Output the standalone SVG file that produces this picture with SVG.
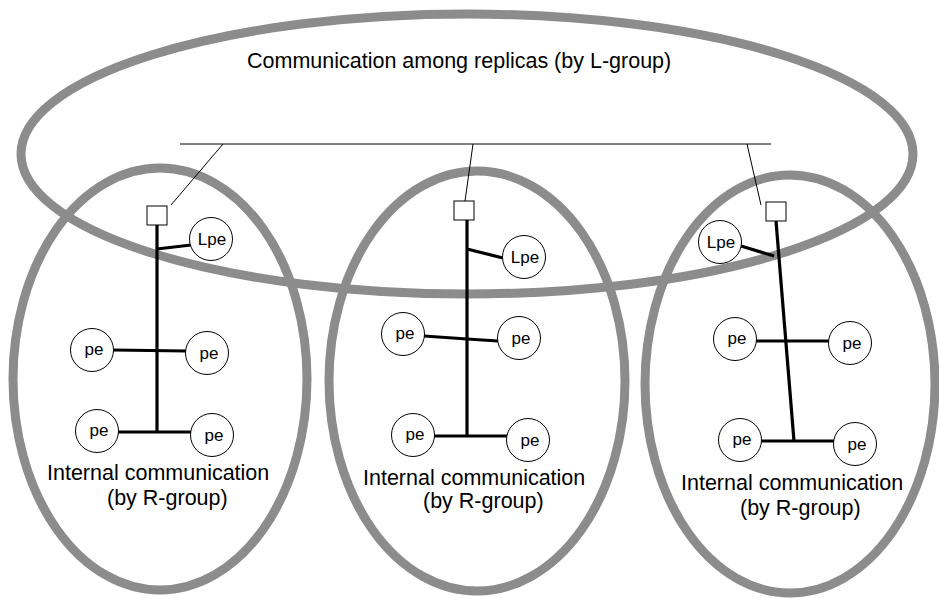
<svg xmlns="http://www.w3.org/2000/svg" width="939" height="598" viewBox="0 0 939 598">
<style>
.grp{fill:none;stroke:#8c8c8c;stroke-width:9}
.thin{stroke:#000;stroke-width:1;fill:none}
.thick{stroke:#000;stroke-width:3.2;fill:none}
.node circle{fill:#fff;stroke:#000;stroke-width:1}
.node rect{fill:#fff;stroke:#000;stroke-width:1}
text{font-family:"Liberation Sans",Arial,sans-serif;fill:#000}
.lbl{font-size:17px;text-anchor:middle}
.big{font-size:21.5px}
</style>
<rect width="939" height="598" fill="#fff"/>
<g id="groups">
<ellipse id="lgroup" class="grp" cx="467" cy="154" rx="446" ry="140"/>
<ellipse id="rgroup1" class="grp" cx="160" cy="379" rx="147" ry="211"/>
<ellipse id="rgroup2" class="grp" cx="477" cy="381" rx="148" ry="210"/>
<ellipse id="rgroup3" class="grp" cx="790" cy="384" rx="145" ry="209"/>
</g>
<g id="connectors">
<line class="thin" x1="180" y1="144" x2="771" y2="144"/>
<line class="thin" x1="171" y1="205" x2="223" y2="144"/>
<line class="thin" x1="465" y1="201" x2="473" y2="144"/>
<line class="thin" x1="761" y1="205" x2="747" y2="144"/>
<line class="thick" x1="157" y1="225" x2="157" y2="432"/>
<line class="thick" x1="157" y1="249" x2="191" y2="245"/>
<line class="thick" x1="113" y1="350" x2="186" y2="351"/>
<line class="thick" x1="118" y1="432" x2="191" y2="432"/>
<line class="thick" x1="467" y1="220" x2="467" y2="436"/>
<line class="thick" x1="467" y1="249" x2="503" y2="258"/>
<line class="thick" x1="424" y1="336" x2="467" y2="339"/>
<line class="thick" x1="467" y1="339" x2="498" y2="341"/>
<line class="thick" x1="434" y1="436" x2="507" y2="436"/>
<line class="thick" x1="776" y1="221" x2="794" y2="441"/>
<line class="thick" x1="741" y1="246" x2="774" y2="256"/>
<line class="thick" x1="756" y1="341" x2="829" y2="341"/>
<line class="thick" x1="761" y1="441" x2="834" y2="441"/>
</g>
<g id="bridge1" class="node"><rect x="147" y="206" width="20" height="19"/></g>
<g id="bridge2" class="node"><rect x="454" y="201" width="20" height="19"/></g>
<g id="bridge3" class="node"><rect x="766" y="202" width="20" height="19"/></g>
<g id="lpe1" class="node"><circle cx="211" cy="239" r="21.5"/><text class="lbl" x="212" y="245">Lpe</text></g>
<g id="lpe2" class="node"><circle cx="524" cy="257" r="21.5"/><text class="lbl" x="525" y="263">Lpe</text></g>
<g id="lpe3" class="node"><circle cx="720" cy="242" r="21.5"/><text class="lbl" x="721" y="248">Lpe</text></g>
<g id="pe1a" class="node"><circle cx="92" cy="350" r="21.5"/><text class="lbl" x="94" y="355">pe</text></g>
<g id="pe1b" class="node"><circle cx="207" cy="353" r="21.5"/><text class="lbl" x="209" y="359">pe</text></g>
<g id="pe1c" class="node"><circle cx="97" cy="431" r="21.5"/><text class="lbl" x="99" y="436">pe</text></g>
<g id="pe1d" class="node"><circle cx="212" cy="435" r="21.5"/><text class="lbl" x="214" y="441">pe</text></g>
<g id="pe2a" class="node"><circle cx="403" cy="334" r="21.5"/><text class="lbl" x="405" y="339">pe</text></g>
<g id="pe2b" class="node"><circle cx="519" cy="338" r="21.5"/><text class="lbl" x="521" y="344">pe</text></g>
<g id="pe2c" class="node"><circle cx="413" cy="435" r="21.5"/><text class="lbl" x="415" y="440">pe</text></g>
<g id="pe2d" class="node"><circle cx="528" cy="440" r="21.5"/><text class="lbl" x="530" y="446">pe</text></g>
<g id="pe3a" class="node"><circle cx="735" cy="339" r="21.5"/><text class="lbl" x="737" y="344">pe</text></g>
<g id="pe3b" class="node"><circle cx="850" cy="343" r="21.5"/><text class="lbl" x="852" y="349">pe</text></g>
<g id="pe3c" class="node"><circle cx="740" cy="440" r="21.5"/><text class="lbl" x="742" y="445">pe</text></g>
<g id="pe3d" class="node"><circle cx="855" cy="444" r="21.5"/><text class="lbl" x="857" y="450">pe</text></g>
<g id="labels">
<text class="big" x="247" y="68">Communication among replicas (by L-group)</text>
<text class="big" x="47" y="480">Internal communication</text>
<text class="big" x="107" y="505">(by R-group)</text>
<text class="big" x="363" y="485">Internal communication</text>
<text class="big" x="423" y="508">(by R-group)</text>
<text class="big" x="681" y="490">Internal communication</text>
<text class="big" x="740" y="515">(by R-group)</text>
</g>
</svg>
